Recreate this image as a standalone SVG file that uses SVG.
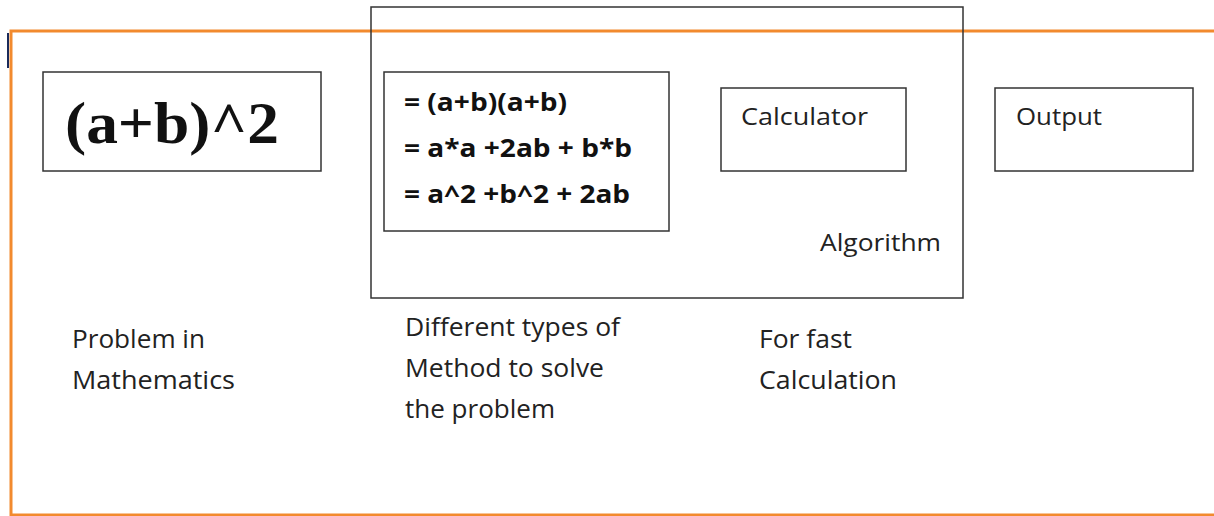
<svg xmlns="http://www.w3.org/2000/svg" width="1214" height="516" viewBox="0 0 1214 516">
<style>
.box{fill:#fff;stroke:#333;stroke-width:1.5}
.t{font-family:"Open Sans","Liberation Sans",sans-serif;fill:#222;font-size:24px}
.lbl{font-family:"Open Sans","Liberation Sans",sans-serif;fill:#222;font-size:25px}
.f{font-family:"Open Sans","Liberation Sans",sans-serif;font-weight:bold;font-size:25px;fill:#111}
</style>
<rect width="1214" height="516" fill="#fff"/>
<g id="frame">
<path d="M1216,31 L11,31 L11,515 L1216,515" fill="none" stroke="#f28a2e" stroke-width="3"/>
<line x1="8" y1="33" x2="8" y2="68" stroke="#1a2a5a" stroke-width="2"/>
</g>
<g id="algorithm">
<rect x="371" y="7" width="592" height="291" fill="none" stroke="#333" stroke-width="1.5"/>
<text class="t" x="820" y="251" textLength="121" lengthAdjust="spacingAndGlyphs">Algorithm</text>
</g>
<g id="problem">
<rect class="box" x="43" y="72" width="278" height="99"/>
<text x="65" y="143" font-family="'Liberation Serif',serif" font-weight="bold" font-size="60" fill="#111" textLength="214" lengthAdjust="spacingAndGlyphs">(a+b)^2</text>
</g>
<g id="methods">
<rect class="box" x="384" y="72" width="285" height="159"/>
<text class="f" x="404" y="111" textLength="163" lengthAdjust="spacingAndGlyphs">= (a+b)(a+b)</text>
<text class="f" x="404" y="157" textLength="228" lengthAdjust="spacingAndGlyphs">= a*a +2ab + b*b</text>
<text class="f" x="404" y="203" textLength="226" lengthAdjust="spacingAndGlyphs">= a^2 +b^2 + 2ab</text>
</g>
<g id="calculator">
<rect class="box" x="721" y="88" width="185" height="83"/>
<text class="t" x="741" y="125" textLength="127" lengthAdjust="spacingAndGlyphs">Calculator</text>
</g>
<g id="output">
<rect class="box" x="995" y="88" width="198" height="83"/>
<text class="t" x="1016" y="125" textLength="86" lengthAdjust="spacingAndGlyphs">Output</text>
</g>
<g id="labels">
<text class="lbl" x="72" y="348" textLength="133" lengthAdjust="spacingAndGlyphs">Problem in</text>
<text class="lbl" x="72" y="389" textLength="163" lengthAdjust="spacingAndGlyphs">Mathematics</text>
<text class="lbl" x="405" y="336" textLength="215" lengthAdjust="spacingAndGlyphs">Different types of</text>
<text class="lbl" x="405" y="377" textLength="199" lengthAdjust="spacingAndGlyphs">Method to solve</text>
<text class="lbl" x="405" y="418" textLength="150" lengthAdjust="spacingAndGlyphs">the problem</text>
<text class="lbl" x="759" y="348" textLength="93" lengthAdjust="spacingAndGlyphs">For fast</text>
<text class="lbl" x="759" y="389" textLength="138" lengthAdjust="spacingAndGlyphs">Calculation</text>
</g>
<g id="connectors"></g>
</svg>
